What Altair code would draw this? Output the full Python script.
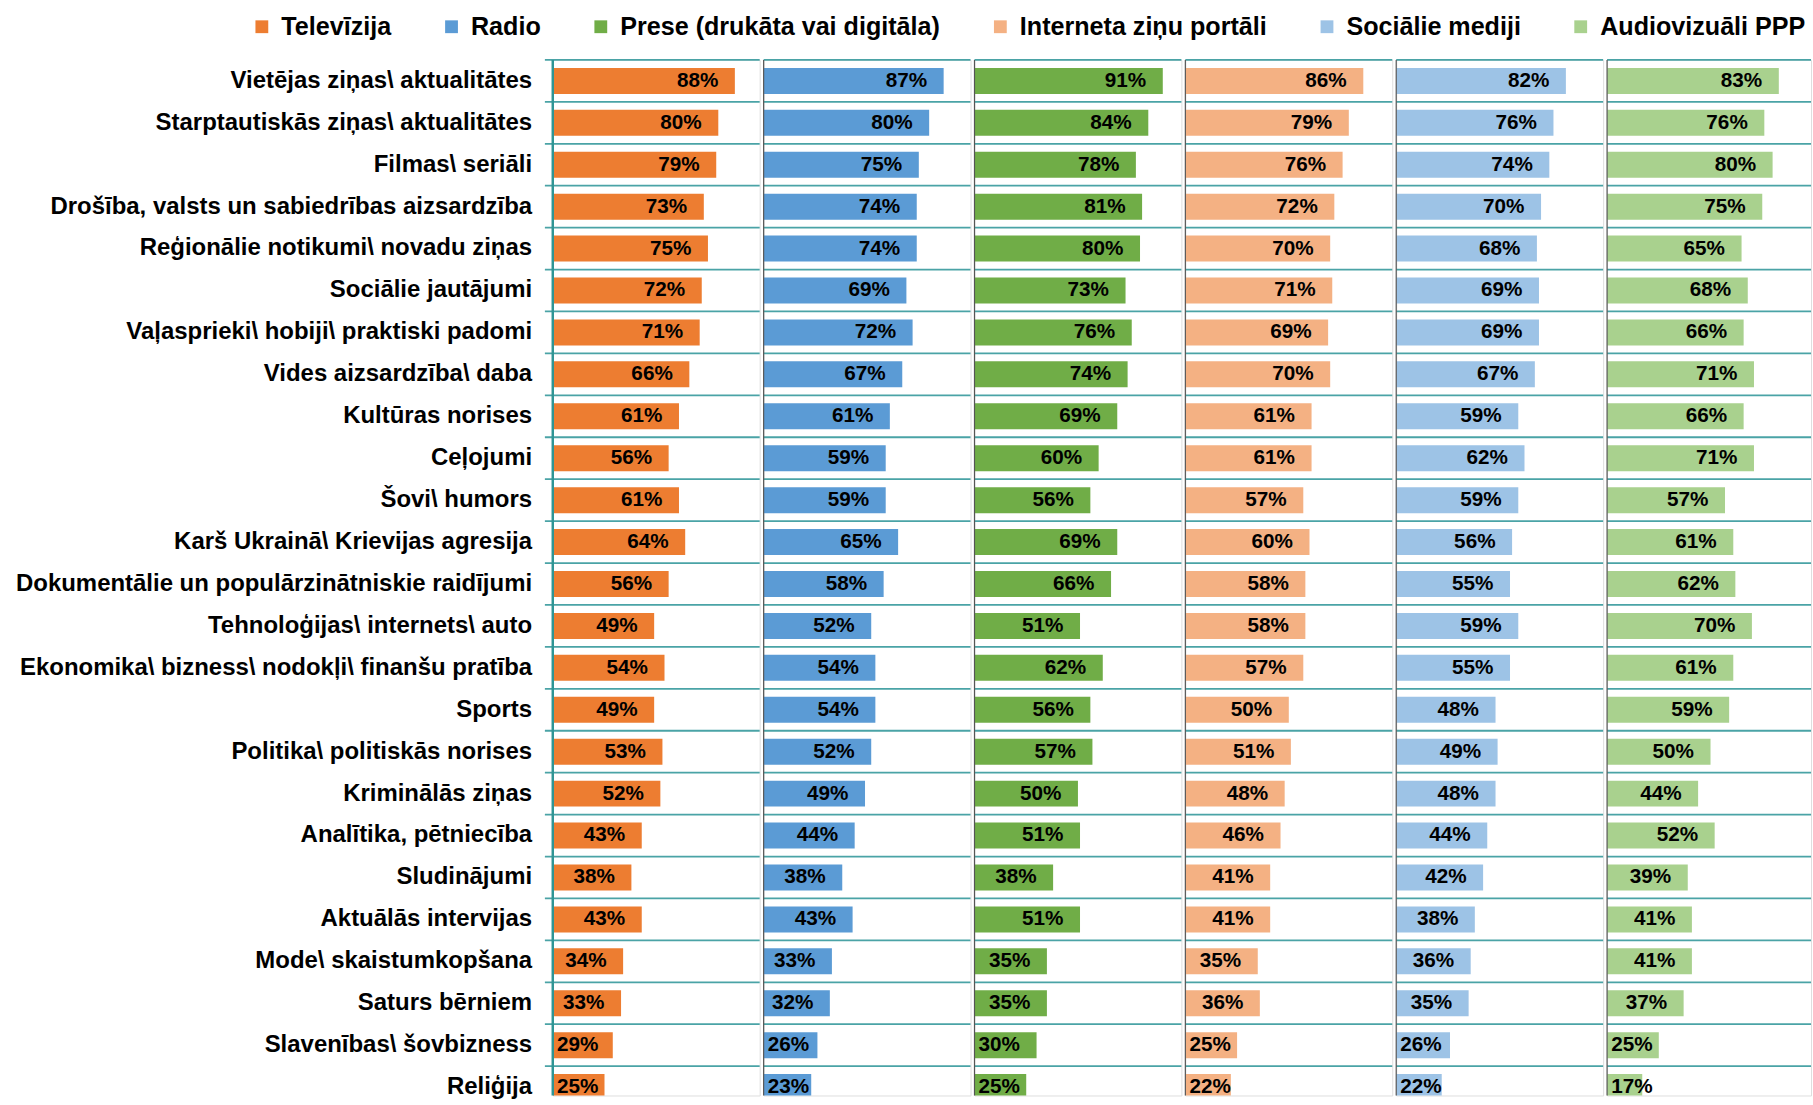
import altair as alt
import pandas as pd

categories = [
    "Vietējas ziņas\\ aktualitātes",
    "Starptautiskās ziņas\\ aktualitātes",
    "Filmas\\ seriāli",
    "Drošība, valsts un sabiedrības aizsardzība",
    "Reģionālie notikumi\\ novadu ziņas",
    "Sociālie jautājumi",
    "Vaļasprieki\\ hobiji\\ praktiski padomi",
    "Vides aizsardzība\\ daba",
    "Kultūras norises",
    "Ceļojumi",
    "Šovi\\ humors",
    "Karš Ukrainā\\ Krievijas agresija",
    "Dokumentālie un populārzinātniskie raidījumi",
    "Tehnoloģijas\\ internets\\ auto",
    "Ekonomika\\ bizness\\ nodokļi\\ finanšu pratība",
    "Sports",
    "Politika\\ politiskās norises",
    "Kriminālās ziņas",
    "Analītika, pētniecība",
    "Sludinājumi",
    "Aktuālās intervijas",
    "Mode\\ skaistumkopšana",
    "Saturs bērniem",
    "Slavenības\\ šovbizness",
    "Reliģija",
]

media = ["Televīzija", "Radio", "Prese (drukāta vai digitāla)",
         "Interneta ziņu portāli", "Sociālie mediji", "Audiovizuāli PPP"]
colors = ["#ED7D31", "#5B9BD5", "#70AD47", "#F4B183", "#9DC3E6", "#A9D18E"]

televizija = [88, 80, 79, 73, 75, 72, 71, 66, 61, 56, 61, 64, 56, 49, 54, 49, 53, 52, 43, 38, 43, 34, 33, 29, 25]
radio      = [87, 80, 75, 74, 74, 69, 72, 67, 61, 59, 59, 65, 58, 52, 54, 54, 52, 49, 44, 38, 43, 33, 32, 26, 23]
prese      = [91, 84, 78, 81, 80, 73, 76, 74, 69, 60, 56, 69, 66, 51, 62, 56, 57, 50, 51, 38, 51, 35, 35, 30, 25]
portali    = [86, 79, 76, 72, 70, 71, 69, 70, 61, 61, 57, 60, 58, 58, 57, 50, 51, 48, 46, 41, 41, 35, 36, 25, 22]
soc_mediji = [82, 76, 74, 70, 68, 69, 69, 67, 59, 62, 59, 56, 55, 59, 55, 48, 49, 48, 44, 42, 38, 36, 35, 26, 22]
ppp        = [83, 76, 80, 75, 65, 68, 66, 71, 66, 71, 57, 61, 62, 70, 61, 59, 50, 44, 52, 39, 41, 41, 37, 25, 17]

series = [televizija, radio, prese, portali, soc_mediji, ppp]

rows = []
for m, vals in zip(media, series):
    for c, v in zip(categories, vals):
        rows.append({"cat": c, "media": m, "value": v})
df = pd.DataFrame(rows)

FONT = "Liberation Sans"
PANEL_W = 210.0
LAST_W = 207.0
ROW_H = 42.55
FULL_H = ROW_H * len(categories)   # full band range (runs past the page bottom)
VIEW_H = 1051                      # visible plot height (chart is cut at bottom)
TEAL = "#4AA3A6"
AXIS_TEAL = "#2F9595"

color_scale = alt.Scale(domain=media, range=colors)
ysc = alt.Scale(domain=categories, range=[0, FULL_H], paddingInner=0,
                paddingOuter=0, round=False)

legend = alt.Legend(
    title=None, orient="none", legendX=-308, legendY=-46.8, direction="horizontal",
    columns=6, symbolType="square", symbolSize=169, symbolStrokeWidth=0,
    labelFont=FONT, labelFontSize=25.5, labelFontWeight="bold", labelColor="black",
    labelOffset=7, columnPadding=47.5, labelLimit=600, padding=0,
)

yaxis = alt.Axis(title=None, labelFont=FONT, labelFontSize=24.3, labelFontWeight="bold",
                 labelColor="black", ticks=False, domain=False, labelPadding=21.5,
                 labelLimit=0, grid=False)

one = pd.DataFrame({"k": [0]})


def panel(i):
    m = media[i]
    w = PANEL_W if i < len(media) - 1 else LAST_W
    xmax = 100 * w / PANEL_W
    xs = alt.Scale(domain=[0, xmax], nice=False, zero=True)
    ax = yaxis if i == 0 else None
    base = alt.Chart(df).transform_filter(alt.datum.media == m)

    hr = base.mark_rule(color=TEAL, strokeWidth=1.8).encode(
        y=alt.Y("cat:N", bandPosition=0, scale=ysc, sort=categories, axis=ax),
        x=alt.value(-8 if i == 0 else 0),
        x2=alt.value(w),
    )
    bars = base.mark_bar(height={"band": 0.62}, clip=True).encode(
        x=alt.X("value:Q", scale=xs, axis=None),
        y=alt.Y("cat:N", scale=ysc, sort=categories, axis=ax),
        color=alt.Color("media:N", scale=color_scale, legend=legend),
    )
    labels = base.transform_calculate(
        lx="max(datum.value - 8, 22)", lab="datum.value + '%'"
    ).mark_text(align="right", baseline="middle", font=FONT, fontSize=21,
                fontWeight="bold", color="black", clip=True).encode(
        x=alt.X("lx:Q", scale=xs, axis=None),
        y=alt.Y("cat:N", scale=ysc, sort=categories, axis=ax),
        text="lab:N",
    )
    if i == 0:
        vr = alt.Chart(one).mark_rule(color=AXIS_TEAL, strokeWidth=2.5).encode(
            x=alt.value(0), y=alt.value(0), y2=alt.value(VIEW_H))
    else:
        vr = alt.Chart(one).mark_rule(color="#555555", strokeWidth=1.2).encode(
            x=alt.value(0), y=alt.value(0), y2=alt.value(VIEW_H))
    return alt.layer(hr, bars, labels, vr).properties(width=w, height=VIEW_H)


chart = alt.hconcat(*[panel(i) for i in range(len(media))], spacing=0).resolve_scale(
    x="independent", color="shared"
).properties(
    padding={"left": 15, "top": 5.5, "right": 0, "bottom": 0}
).configure_view(stroke=None).configure(background="white")

chart.save("out.html", embed_options={"renderer": "svg", "actions": False})
